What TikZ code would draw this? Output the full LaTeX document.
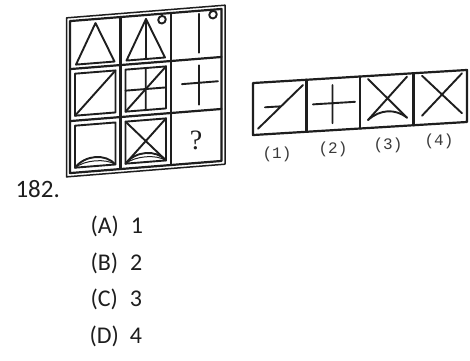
\documentclass[tikz,border=0pt]{standalone}
\usepackage{fontspec}
\setmainfont{Carlito}
\setmonofont{Liberation Mono}
\newfontfamily\qfont{Liberation Serif}
\definecolor{pencil}{HTML}{1E1E1E}
\definecolor{faded}{HTML}{3A3A3A}

\begin{document}
\begin{tikzpicture}[x=1pt,y=-1pt,line join=round,line cap=round,
    figline/.style={pencil,line width=1.9pt},
    gridline/.style={pencil,line width=2.2pt},
    answer/.style={anchor=base west,font=\fontsize{24}{28}\selectfont,color=pencil},
    optlabel/.style={font=\ttfamily\fontsize{16}{19}\selectfont,color=faded}]
  \useasboundingbox[fill=white] (0,0) rectangle (470,360);
  % problem figure
  \begin{scope}[shift={(146,0)},yslant=0.08]
    \draw[pencil,line width=1.5pt] (-79.5,11.5) rectangle (79,170.5);
    \draw[gridline] (-76,15) rectangle (75.5,167);
    \foreach \x in {-25.5,25} \draw[gridline] (\x,15) -- (\x,167);
    \foreach \y in {63,115} \draw[gridline] (-76,\y) -- (75.5,\y);
    % row 1
    \begin{scope}[shift={(-76,15)}]
      \draw[figline] (6,44) -- (44.5,44) -- (25.5,4) -- cycle;
    \end{scope}
    \begin{scope}[shift={(-25.5,15)}]
      \draw[figline] (6,44) -- (44.5,44) -- (25.5,4) -- cycle;
      \draw[figline] (25.5,4) -- (25.5,44);
      \draw[figline] (41.5,6) circle (3.8);
    \end{scope}
    \begin{scope}[shift={(25,15)}]
      \draw[figline] (28,3) -- (28,42);
      \draw[figline] (42,5) circle (3.8);
    \end{scope}
    % row 2
    \begin{scope}[shift={(-76,63)}]
      \draw[figline] (5,5) rectangle (45.5,47);
      \draw[figline] (5,47) -- (45.5,5);
    \end{scope}
    \begin{scope}[shift={(-25.5,63)}]
      \draw[figline] (5,5) rectangle (45.5,47);
      \draw[figline] (5,47) -- (45.5,5);
      \draw[figline] (25.25,5) -- (25.25,47) (5,26) -- (45.5,26);
    \end{scope}
    \begin{scope}[shift={(25,63)}]
      \draw[figline] (11,24) -- (47,24) (28,6.5) -- (28,46);
    \end{scope}
    % row 3
    \begin{scope}[shift={(-76,115)}]
      \draw[figline] (5,5) rectangle (45.5,47);
      \draw[figline] (5,47) .. controls (15,35) and (35.5,35) .. (45.5,47);
      \draw[pencil,line width=1pt] (5,47) .. controls (15,40) and (35.5,40) .. (45.5,47);
    \end{scope}
    \begin{scope}[shift={(-25.5,115)}]
      \draw[figline] (5,5) rectangle (45.5,47);
      \draw[figline] (5,5) -- (45.5,47) (5,47) -- (45.5,5);
      \draw[figline] (5,47) .. controls (15,35) and (35.5,35) .. (45.5,47);
      \draw[pencil,line width=1pt] (5,47) .. controls (15,40) and (35.5,40) .. (45.5,47);
    \end{scope}
  \end{scope}
  \node[font=\qfont\fontsize{28}{30}\selectfont,color=pencil] (qmark) at (196,140) {?};

  % answer figures
  \begin{scope}[shift={(360,0)},yslant=0.061]
    \draw[gridline] (-107,76.5) rectangle (107,128.5);
    \foreach \x in {-53.5,0,53.5} \draw[gridline] (\x,76.5) -- (\x,128.5);
    \begin{scope}[shift={(-107,76.5)}]
      \draw[figline] (5,46) -- (50,5) (12,25) -- (28,25);
    \end{scope}
    \begin{scope}[shift={(-53.5,76.5)}]
      \draw[figline] (6.5,25) -- (48.5,25) (26,7) -- (26,45);
    \end{scope}
    \begin{scope}[shift={(0,76.5)}]
      \draw[figline] (8,3) -- (47,44) (47,3) -- (8,44);
      \draw[figline] (8,44) .. controls (20,34) and (35,34) .. (47,44);
    \end{scope}
    \begin{scope}[shift={(53.5,76.5)}]
      \draw[figline] (8.5,3) -- (48.5,43) (48.5,3) -- (8.5,43);
    \end{scope}
  \end{scope}
  \node[optlabel] (lab1) at (277,154) {(1)};
  \node[optlabel] (lab2) at (333,149) {(2)};
  \node[optlabel] (lab3) at (388,145) {(3)};
  \node[optlabel] (lab4) at (439,141) {(4)};

  % question and choices
  \node[answer,font=\fontsize{25}{28}\selectfont] (qnum) at (12,197) {182.};
  \node[answer] (optA) at (87,233) {(A)\hspace{12pt}1};
  \node[answer] (optB) at (87,270) {(B)\hspace{12pt}2};
  \node[answer] (optC) at (87,306) {(C)\hspace{12pt}3};
  \node[answer] (optD) at (86,343) {(D)\hspace{11pt}4};
\end{tikzpicture}
\end{document}
